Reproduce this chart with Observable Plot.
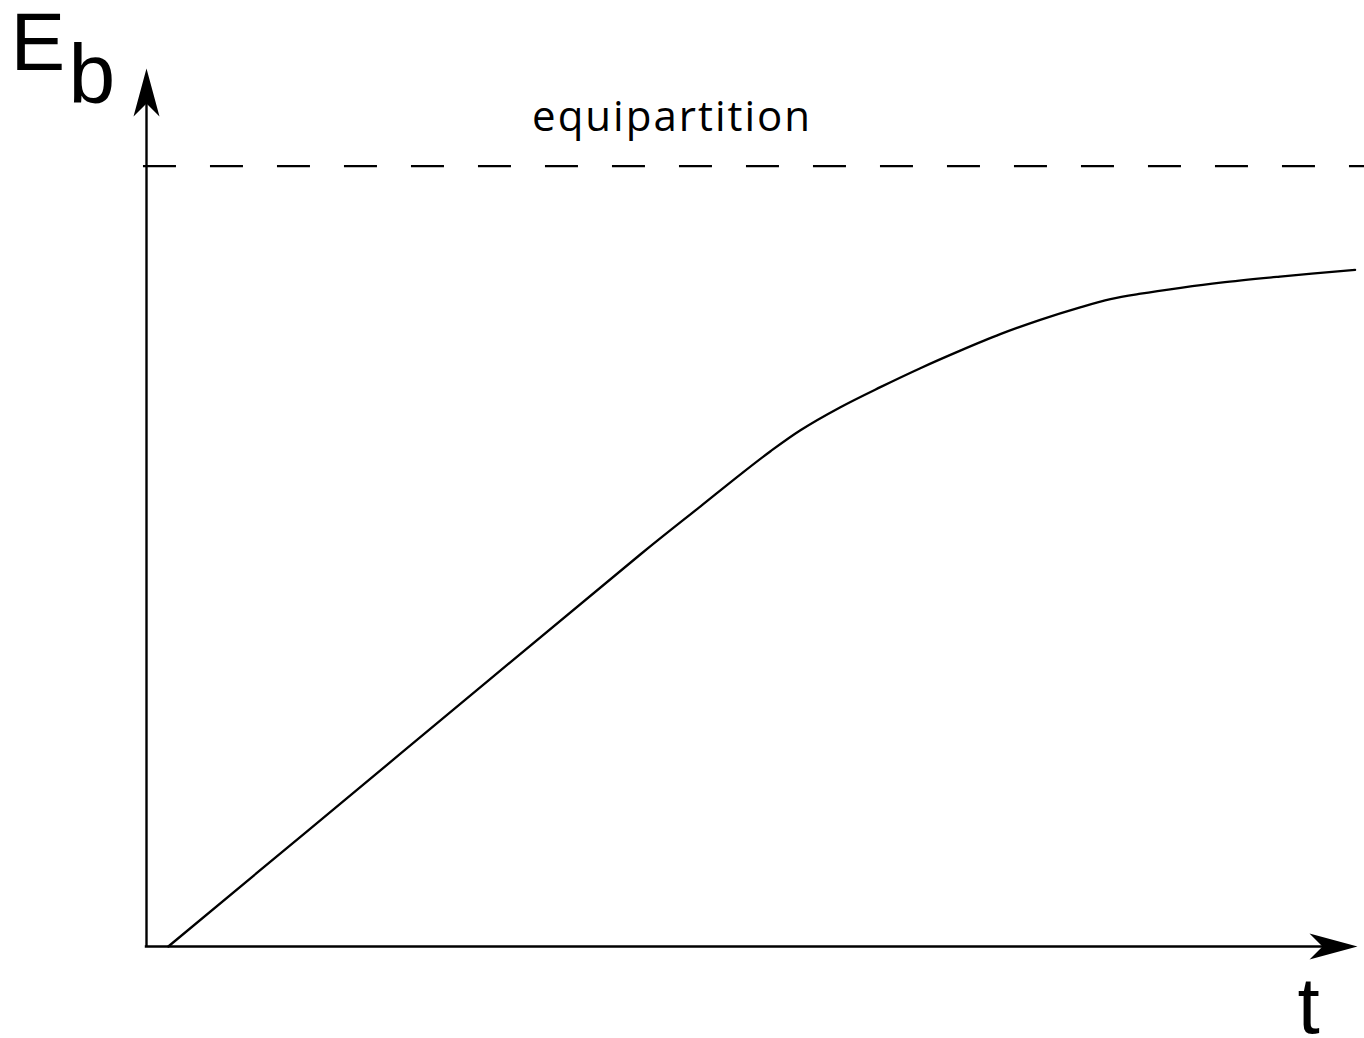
<!DOCTYPE html>
<html>
<head>
<meta charset="utf-8">
<script src="https://cdn.jsdelivr.net/npm/d3@7"></script>
<script src="https://cdn.jsdelivr.net/npm/@observablehq/plot@0.6"></script>
<style>
  html, body { margin: 0; padding: 0; background: #fff; overflow: hidden; }
  #chart svg { display: block; }
</style>
</head>
<body>
<div id="chart"></div>
<script>
// Curve: bound energy E_b versus time t (equipartition level = 1)
const tValues = [0.018, 0.2097, 0.408, 0.4575, 0.4905, 0.5153, 0.540, 0.573, 0.606, 0.639,
                 0.672, 0.705, 0.738, 0.771, 0.796, 0.821, 0.854, 0.887, 0.936, 0.998];
const EValues = [0, 0.247, 0.5026, 0.564, 0.605, 0.6346, 0.6615, 0.691, 0.7167, 0.741,
                 0.7635, 0.7846, 0.803, 0.819, 0.8295, 0.8365, 0.844, 0.8506, 0.8583, 0.867];
const equipartitionLevel = [1];
const axisLabelY = ["E", "b"];
const axisLabelX = ["t"];
const levelLabel = ["equipartition"];

const tMax = 1, EMax = 1.125;
const curve = tValues.map((t, i) => ({t, E: EValues[i]}));

// filled "stealth" arrowheads, tip at the symbol origin
const arrowUp = {draw(ctx) { ctx.moveTo(0, 0); ctx.lineTo(13, 48); ctx.lineTo(0, 35); ctx.lineTo(-13, 48); ctx.closePath(); }};
const arrowRight = {draw(ctx) { ctx.moveTo(0, 0); ctx.lineTo(-48, 13); ctx.lineTo(-35, 0); ctx.lineTo(-48, -13); ctx.closePath(); }};

const chart = Plot.plot({
  width: 1364,
  height: 1038,
  marginLeft: 146,
  marginRight: 7,
  marginTop: 68,
  marginBottom: 92,
  style: {background: "#fff", color: "#000"},
  x: {domain: [0, tMax], axis: null},
  y: {domain: [0, EMax], axis: null},
  marks: [
    // equipartition dashed level
    Plot.ruleY(equipartitionLevel, {x1: -0.0025, x2: 1.01, stroke: "#000", strokeWidth: 2.2, strokeDasharray: "33,34", clip: false}),
    // axes
    Plot.ruleX([0], {y1: 0, y2: EMax * 0.96, stroke: "#000", strokeWidth: 2.4}),
    Plot.ruleY([0], {x1: -0.001, x2: tMax * 0.975, stroke: "#000", strokeWidth: 2.4}),
    Plot.dot([{t: 0, E: EMax}], {x: "t", y: "E", symbol: arrowUp, fill: "#000", stroke: "none"}),
    Plot.dot([{t: tMax, E: 0}], {x: "t", y: "E", symbol: arrowRight, fill: "#000", stroke: "none"}),
    // curve
    Plot.line(curve, {x: "t", y: "E", curve: "catmull-rom", stroke: "#000", strokeWidth: 2.3}),
    // labels
    Plot.text(levelLabel, {x: 0.434, y: equipartitionLevel[0], text: d => d, dy: -35, lineAnchor: "bottom", textAnchor: "middle",
      fontFamily: "'Open Sans', sans-serif", fontSize: 42, fill: "#000"}),
    Plot.text([axisLabelY[0]], {x: 0, y: EMax, text: d => d, dx: -136, dy: 1, lineAnchor: "bottom", textAnchor: "start",
      fontFamily: "'Liberation Sans', Arial, sans-serif", fontSize: 82, fill: "#000"}),
    Plot.text([axisLabelY[1]], {x: 0, y: EMax, text: d => d, dx: -78, dy: 34, lineAnchor: "bottom", textAnchor: "start",
      fontFamily: "'Liberation Sans', Arial, sans-serif", fontSize: 84, fill: "#000"}),
    Plot.text(axisLabelX, {x: tMax, y: 0, text: d => d, dx: -60, dy: 86, lineAnchor: "bottom", textAnchor: "start",
      fontFamily: "'Liberation Sans', Arial, sans-serif", fontSize: 80, fill: "#000"})
  ]
});
// widen the letter spacing of the level label as in the reference
d3.select(chart).selectAll("text").filter(function() { return this.textContent === levelLabel[0]; })
  .style("letter-spacing", "2px");
document.getElementById("chart").appendChild(chart);
</script>
</body>
</html>
